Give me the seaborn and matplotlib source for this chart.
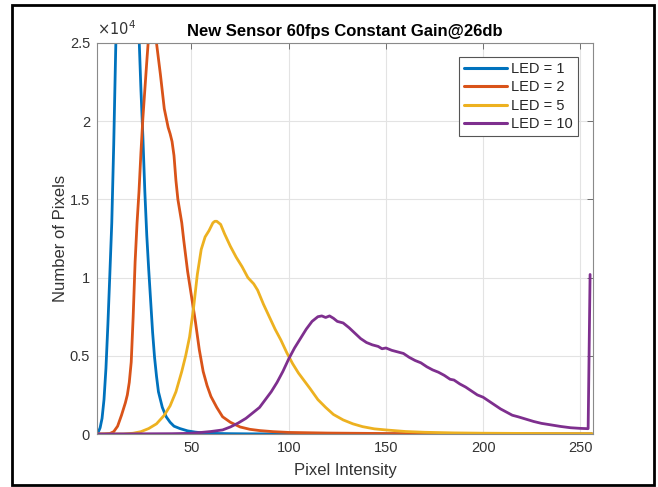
import numpy as np
import pandas as pd
import matplotlib
matplotlib.use("Agg")
import matplotlib.pyplot as plt
import seaborn as sns
from matplotlib.ticker import FuncFormatter

# histogram read-offs, counts in units of 1e4
led1_x = [1, 2, 3, 4, 5, 6, 7, 8, 9, 10, 11, 12, 14, 16, 18, 20, 22, 23, 24, 25, 26, 27,
          28, 29, 30, 31, 32, 33, 35, 37, 39, 41, 44, 48, 52, 56, 60, 70, 80, 100, 150, 256]
led1_y = [0.0, 0.01, 0.04, 0.1, 0.22, 0.42, 0.7, 1.02, 1.35, 1.85, 2.45, 2.95, 3.5, 3.6, 3.4,
          3.1, 2.8, 2.55, 2.2, 1.9, 1.55, 1.27, 1.05, 0.85, 0.65, 0.49, 0.37, 0.27, 0.17, 0.11,
          0.075, 0.05, 0.035, 0.02, 0.012, 0.007, 0.004, 0.002, 0.001, 0.0005, 0.0002, 0.0]

led2_x = [1, 5, 8, 10, 12, 14, 16, 17, 18, 19, 20, 21, 22, 23, 24, 25, 26, 27, 28, 29, 30,
          31, 32, 34, 36, 38, 39, 40, 41, 42, 43, 45, 46, 47, 48, 50, 52, 54, 56, 58, 60, 63,
          66, 70, 75, 80, 85, 92, 100, 120, 150, 200, 256]
led2_y = [0.0, 0.0, 0.003, 0.015, 0.05, 0.12, 0.2, 0.25, 0.33, 0.46, 0.75, 1.1, 1.35, 1.55,
          1.8, 2.02, 2.2, 2.38, 2.55, 2.65, 2.66, 2.6, 2.5, 2.3, 2.08, 1.96, 1.92, 1.87, 1.78,
          1.62, 1.5, 1.35, 1.24, 1.14, 1.04, 0.88, 0.72, 0.54, 0.4, 0.31, 0.24, 0.17, 0.11,
          0.075, 0.045, 0.03, 0.022, 0.015, 0.01, 0.006, 0.003, 0.001, 0.0]

led5_x = [1, 15, 20, 24, 28, 32, 36, 39, 42, 45, 47, 49, 51, 53, 55, 57, 59, 61, 62, 63, 65,
          67, 70, 73, 76, 79, 82, 84, 87, 90, 93, 96, 99, 102, 105, 108, 111, 115, 119, 123,
          128, 133, 138, 144, 150, 160, 170, 185, 200, 230, 256]
led5_y = [0.0, 0.0, 0.005, 0.015, 0.035, 0.065, 0.12, 0.18, 0.27, 0.4, 0.5, 0.62, 0.8, 1.02,
          1.18, 1.26, 1.3, 1.35, 1.36, 1.36, 1.34, 1.28, 1.2, 1.13, 1.07, 1.0, 0.96, 0.92, 0.83,
          0.75, 0.67, 0.6, 0.52, 0.45, 0.39, 0.34, 0.29, 0.22, 0.17, 0.125, 0.09, 0.065, 0.047,
          0.033, 0.026, 0.016, 0.011, 0.007, 0.005, 0.003, 0.002]

led10_x = [1, 40, 49, 55, 60, 66, 70, 74, 78, 81, 85, 88, 91, 94, 97, 100, 103, 106, 109, 112,
           115, 117, 119, 121, 123, 125, 128, 131, 134, 137, 140, 143, 146, 148, 150, 153, 156,
           159, 162, 165, 168, 171, 174, 177, 180, 183, 185, 188, 191, 194, 197, 200, 203, 206,
           209, 212, 215, 218, 222, 226, 230, 235, 240, 245, 250, 254, 255]
led10_y = [0.0, 0.002, 0.004, 0.01, 0.016, 0.026, 0.045, 0.07, 0.1, 0.13, 0.17, 0.22, 0.27,
           0.33, 0.4, 0.48, 0.55, 0.61, 0.67, 0.72, 0.75, 0.755, 0.745, 0.755, 0.74, 0.72, 0.71,
           0.68, 0.645, 0.61, 0.585, 0.57, 0.56, 0.545, 0.55, 0.535, 0.525, 0.515, 0.49, 0.47,
           0.455, 0.43, 0.41, 0.395, 0.375, 0.35, 0.345, 0.32, 0.3, 0.275, 0.25, 0.235, 0.21,
           0.185, 0.16, 0.14, 0.12, 0.11, 0.095, 0.08, 0.068, 0.058, 0.048, 0.04, 0.036, 0.034,
           1.02]

labels = ["LED = 1", "LED = 2", "LED = 5", "LED = 10"]
colors = ["#0072BD", "#D95319", "#EDB120", "#7E2F8E"]

series = [(led1_x, led1_y), (led2_x, led2_y), (led5_x, led5_y), (led10_x, led10_y)]
frames = []
for lab, (xs, ys) in zip(labels, series):
    frames.append(pd.DataFrame({"intensity": xs,
                                "pixels": np.array(ys) * 1e4,
                                "led": lab}))
df = pd.concat(frames, ignore_index=True)

sns.set_theme(style="white")
plt.rcParams["font.family"] = ["Liberation Sans", "DejaVu Sans"]

fig = plt.figure(figsize=(6.58, 4.87), dpi=100)
ax = fig.add_axes([97 / 658, 1 - 434 / 487, (593 - 97) / 658, (434 - 43) / 487])

sns.lineplot(data=df, x="intensity", y="pixels", hue="led", hue_order=labels,
             palette=colors, estimator=None, sort=False, linewidth=2.0, ax=ax)

ax.set_xlim(1.4, 256.5)
ax.set_ylim(0, 2.5e4)
ax.set_xticks([50, 100, 150, 200, 250])
ax.set_yticks(np.arange(0, 2.51e4, 0.5e4))
ax.yaxis.set_major_formatter(FuncFormatter(lambda v, p: "%g" % (v / 1e4)))
ax.grid(True, color="#e3e3e3", linewidth=0.8)
ax.set_axisbelow(True)
for s in ax.spines.values():
    s.set_visible(True)
    s.set_color("#8a8a8a")
    s.set_linewidth(0.8)
ax.tick_params(direction="in", length=4, width=0.7, color="#707070",
               labelsize=10.5, labelcolor="#333333", top=True, right=True, pad=5)

ax.text(0.0, 1.012, r"$\times10^4$", transform=ax.transAxes, fontsize=10.5,
        color="#333333", ha="left", va="bottom")
ax.set_title("New Sensor 60fps Constant Gain@26db", fontsize=12, fontweight="bold",
             color="black", pad=5)
ax.set_xlabel("Pixel Intensity", fontsize=12, color="#333333", labelpad=6)
ax.set_ylabel("Number of Pixels", fontsize=12, color="#333333", labelpad=1)

leg = ax.legend(loc="upper right", bbox_to_anchor=(578 / 658, 1 - 57 / 487),
                bbox_transform=fig.transFigure, borderaxespad=0, fontsize=10.5,
                frameon=True, fancybox=False, framealpha=1, handlelength=2.9,
                handletextpad=0.3, labelspacing=0.3, borderpad=0.35)
leg.get_frame().set_edgecolor("#555555")
leg.get_frame().set_linewidth(0.8)
for line in leg.get_lines():
    line.set_linewidth(2.2)

fig.patches.append(plt.Rectangle((12 / 658, 1 - 485 / 487), (654 - 12) / 658, (485 - 5) / 487,
                                 transform=fig.transFigure, fill=False,
                                 edgecolor="black", linewidth=2.0))

fig.savefig("out.png", dpi=100)
